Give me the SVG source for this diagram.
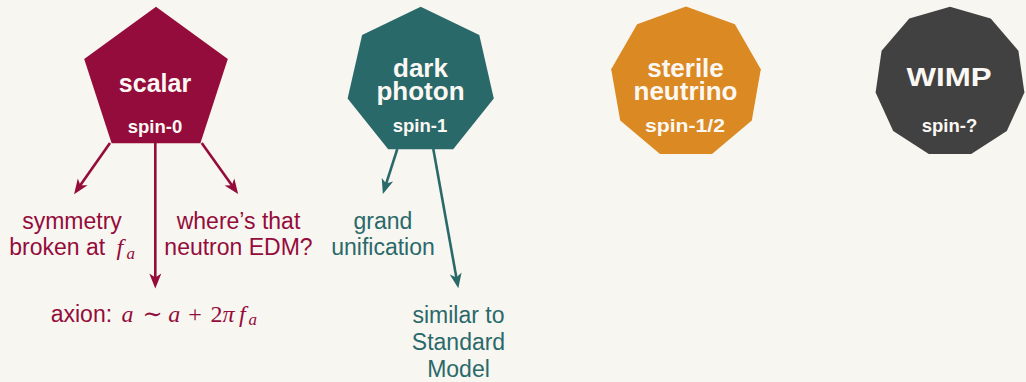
<svg xmlns="http://www.w3.org/2000/svg" width="1026" height="382" viewBox="0 0 1026 382">
<style>
.bg{fill:#f8f6f1}
.ttl{font-family:"Liberation Sans",Arial,sans-serif;font-weight:bold;font-size:26px;fill:#fbf8f4;text-anchor:middle}
.spin{font-family:"Liberation Sans",Arial,sans-serif;font-weight:bold;font-size:18.5px;fill:#fbf8f4;text-anchor:middle}
.lab{font-family:"Liberation Sans",Arial,sans-serif;font-size:23px;text-anchor:middle}
.lbs{font-family:"Liberation Sans",Arial,sans-serif;font-size:23px}
.m{font-family:"Liberation Serif","DejaVu Serif",serif;font-style:italic;font-size:24px}
.mr{font-family:"Liberation Serif","DejaVu Serif",serif;font-size:24px}
.sub{font-family:"Liberation Serif","DejaVu Serif",serif;font-style:italic;font-size:17px}
.red{fill:#940c3b}
.teal{fill:#2a696a}
.cr{stroke:#940c3b;stroke-width:2.6;fill:none}
.ct{stroke:#2a696a;stroke-width:2.6;fill:none}
</style>
<defs>
<marker id="ahr" viewBox="-16 -7 17 14" refX="-8" refY="0" markerWidth="17" markerHeight="14" markerUnits="userSpaceOnUse" orient="auto">
<path d="M0 0 L-15 -6 L-11 0 L-15 6 Z" fill="#940c3b"/>
</marker>
<marker id="aht" viewBox="-16 -7 17 14" refX="-8" refY="0" markerWidth="17" markerHeight="14" markerUnits="userSpaceOnUse" orient="auto">
<path d="M0 0 L-15 -6 L-11 0 L-15 6 Z" fill="#2a696a"/>
</marker>
</defs>
<rect class="bg" x="0" y="0" width="1026" height="382"/>

<g id="connectors">
<line class="cr" x1="110" y1="143" x2="78.7" y2="187.6" marker-end="url(#ahr)"/>
<line class="cr" x1="155.3" y1="143" x2="155.3" y2="280.5" marker-end="url(#ahr)"/>
<line class="cr" x1="201.7" y1="143" x2="233.5" y2="187.6" marker-end="url(#ahr)"/>
<line class="ct" x1="397.3" y1="149" x2="385.3" y2="186.4" marker-end="url(#aht)"/>
<line class="ct" x1="433.3" y1="149" x2="456.9" y2="280.4" marker-end="url(#aht)"/>
</g>

<g id="scalar">
<polygon points="156,6.7 227.8,58.9 200.4,143.3 111.6,143.3 84.2,58.9" fill="#940c3b"/>
<text class="ttl" x="155" y="92" style="font-size:25px">scalar</text>
<text class="spin" x="155" y="132.5">spin-0</text>
</g>

<g id="dark-photon">
<polygon points="420.7,6.7 479.3,34.9 493.8,98.4 453.2,149.3 388.2,149.3 347.6,98.4 362.1,34.9" fill="#2a696a"/>
<text class="ttl" x="420.5" y="76.5">dark</text>
<text class="ttl" x="420.5" y="100">photon</text>
<text class="spin" x="420" y="132.3">spin-1</text>
</g>

<g id="sterile-neutrino">
<polygon points="686,6.5 734.9,24.3 760.8,69.3 751.8,120.5 712,153.9 660,153.9 620.2,120.5 611.2,69.3 637.1,24.3" fill="#db8922"/>
<text class="ttl" x="685.5" y="77.3">sterile</text>
<text class="ttl" x="685.5" y="100">neutrino</text>
<text class="spin" x="685" y="132.3" textLength="80" lengthAdjust="spacingAndGlyphs">spin-1/2</text>
</g>

<g id="wimp">
<polygon points="950,6.7 990.7,18.6 1018.4,50.7 1024.4,92.6 1006.8,131.1 971.2,154.1 928.8,154.1 893.2,131.1 875.6,92.6 881.6,50.7 909.3,18.6" fill="#414141"/>
<text class="ttl" x="949" y="86" style="font-size:25px" textLength="85" lengthAdjust="spacingAndGlyphs">WIMP</text>
<text class="spin" x="949.5" y="132.3">spin-?</text>
</g>

<g id="labels">
<text class="lab red" x="72" y="229">symmetry</text>
<text class="lbs red" y="255"><tspan x="9.3">broken at</tspan><tspan class="m" x="116.5">f</tspan><tspan class="sub" x="126.5" dy="3.5">a</tspan></text>
<text class="lab red" x="238.5" y="229">where’s that</text>
<text class="lab red" x="238.5" y="255">neutron EDM?</text>
<text class="lbs red" y="322"><tspan x="50.7">axion:</tspan><tspan class="m" x="121.5">a</tspan><tspan class="mr" x="142.5">∼</tspan><tspan class="m" x="168.3">a</tspan><tspan class="mr" x="188.3">+</tspan><tspan class="mr" x="210.5">2</tspan><tspan class="m" x="222.5">π</tspan><tspan class="m" x="239">f</tspan><tspan class="sub" x="248.5" dy="3">a</tspan></text>
<text class="lab teal" x="383" y="229">grand</text>
<text class="lab teal" x="383" y="255">unification</text>
<text class="lab teal" x="458.5" y="323">similar to</text>
<text class="lab teal" x="458.5" y="350">Standard</text>
<text class="lab teal" x="458.5" y="377">Model</text>
</g>
</svg>
